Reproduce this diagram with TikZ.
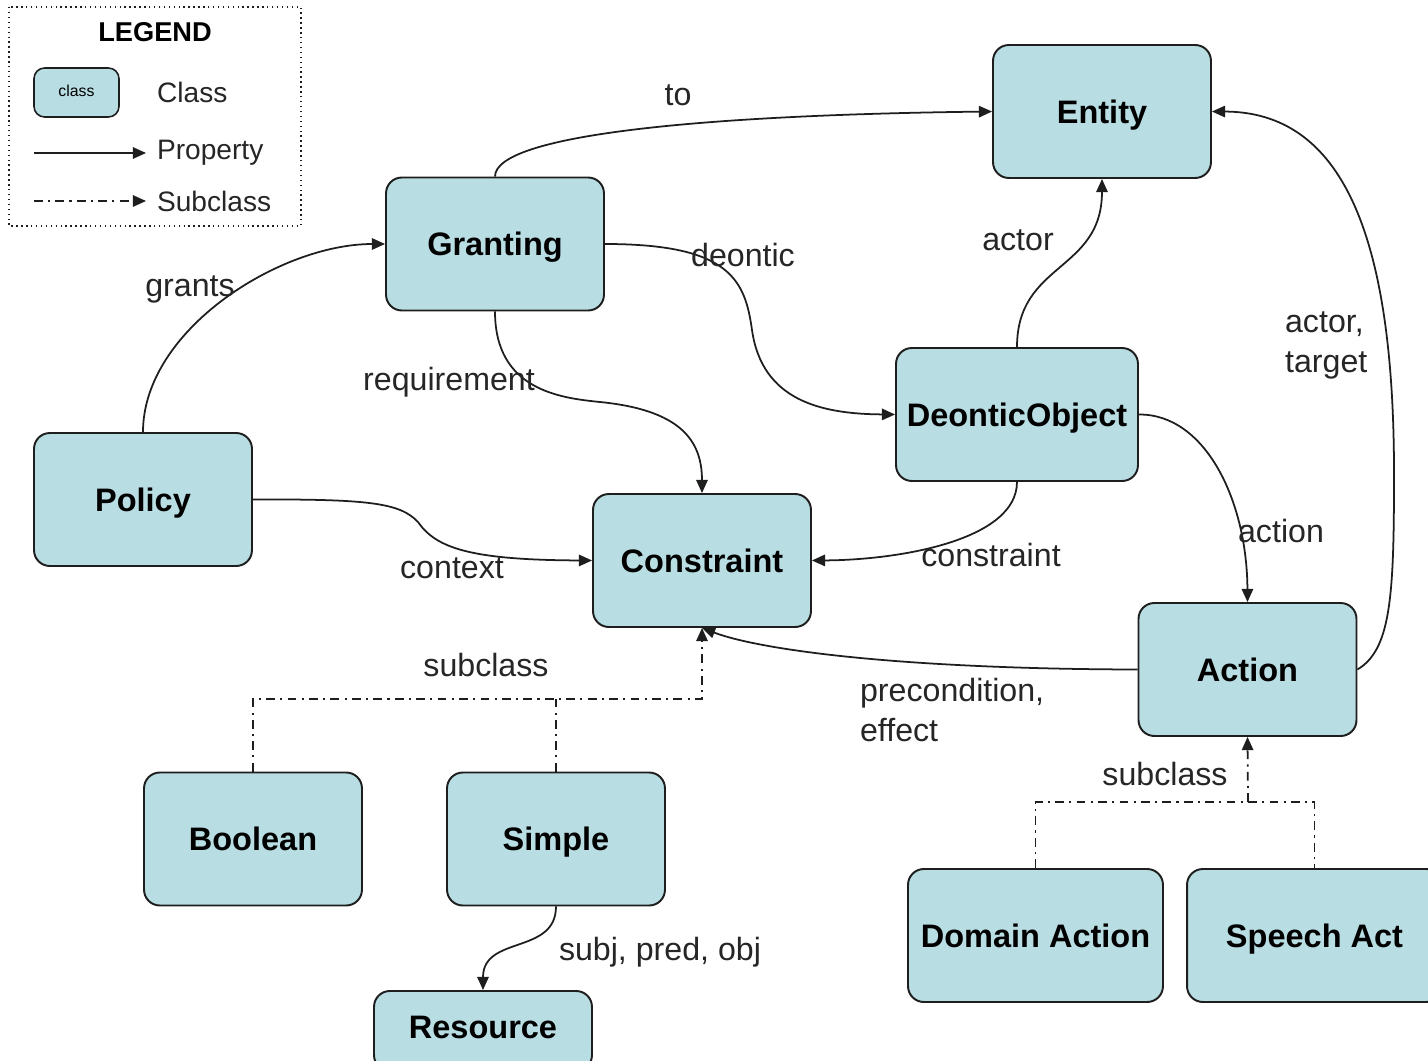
\documentclass[tikz,border=0pt]{standalone}
\usepackage{fontspec}
\setmainfont{Liberation Sans}
\usetikzlibrary{arrows.meta}
\definecolor{classfill}{RGB}{184,221,226}
\definecolor{lineink}{RGB}{30,30,30}

\begin{document}
\begin{tikzpicture}[x=0.02cm,y=-0.02cm,
  cls/.style={draw=lineink, line width=1.1pt, fill=classfill, rounded corners=9pt,
    minimum width=4.36cm, minimum height=2.66cm, inner sep=2pt,
    text height=16.9pt, text depth=3.7pt,
    font=\fontsize{18.5}{22}\selectfont\bfseries},
  prop/.style={draw=lineink, line width=1pt, -{Triangle[length=7.5pt,width=6.5pt]}},
  subcls/.style={draw=lineink, line width=1pt, dash pattern=on 5pt off 3pt on 1.2pt off 3pt},
  lbl/.style={font=\fontsize{18.3}{22.8}\selectfont, text=black!85, inner sep=1pt},
]
\useasboundingbox (0,0) rectangle (1428,1061);
\clip (0,0) rectangle (1428,1061);
\fill[white] (0,0) rectangle (1428,1061);

% ---- legend ----
\draw[lineink, line width=0.8pt, dotted] (9,7) rectangle (301,226);
\node[font=\fontsize{15.5}{18}\selectfont\bfseries] (legtitle) at (155,32) {LEGEND};
\node[cls, minimum width=1.7cm, minimum height=0.98cm, rounded corners=6pt,
      line width=0.9pt, text height=6pt, text depth=1.5pt,
      font=\fontsize{9}{11}\selectfont] (legcls) at (76.5,92.5) {class};
\node[lbl, anchor=west, font=\fontsize{16}{20}\selectfont] (legclstxt) at (155,92) {Class};
\coordinate (lpa) at (34,153);
\coordinate (lpb) at (146,153);
\draw[prop] (lpa) -- (lpb);
\node[lbl, anchor=west, font=\fontsize{16}{20}\selectfont] (legproptxt) at (155,153) {Property};
\coordinate (lsa) at (34,201);
\coordinate (lsb) at (146,201);
\draw[subcls, -{Triangle[length=7.5pt,width=6.5pt]}] (lsa) -- (lsb);
\node[lbl, anchor=west, font=\fontsize{16}{20}\selectfont] (legsubtxt) at (155,201) {Subclass};

% ---- classes ----
\node[cls] (entity) at (1102,111.5) {Entity};
\node[cls] (granting) at (495,244) {Granting};
\node[cls] (policy) at (143,499.5) {Policy};
\node[cls] (constraint) at (702,560.5) {Constraint};
\node[cls, minimum width=4.84cm] (deontic) at (1017,414.5) {DeonticObject};
\node[cls] (action) at (1247.5,669.5) {Action};
\node[cls] (boolean) at (253,839) {Boolean};
\node[cls] (simple) at (556,839) {Simple};
\node[cls, minimum height=1.6cm, text depth=8.2pt] (resource) at (483,1031) {Resource};
\node[cls, minimum width=5.1cm] (domain) at (1035.5,935.5) {Domain Action};
\node[cls, minimum width=5.1cm] (speech) at (1314.5,935.5) {Speech Act};

% ---- properties ----
\draw[prop] (granting.north) .. controls (495,135) and (700,115) .. (entity.west);
\draw[prop] (policy.north) .. controls (143,330) and (280,244) .. (granting.west);
\draw[prop] (granting.east) .. controls (730,244) and (745,280) .. (752,330)
  .. controls (762,400) and (820,414) .. (deontic.west);
\draw[prop] (granting.south) .. controls (495,390) and (560,398) .. (600,402)
  .. controls (680,410) and (702,440) .. (constraint.north);
\draw[prop] (policy.east) .. controls (370,499) and (400,503) .. (418,522)
  .. controls (436,548) and (470,560) .. (constraint.west);
\draw[prop] (deontic.north) .. controls (1017,262) and (1102,272) .. (entity.south);
\draw[prop] (deontic.south) .. controls (1017,540) and (900,560) .. (constraint.east);
\draw[prop] (deontic.east) .. controls (1205,414) and (1247,500) .. (action.north);
\draw[prop] (action.west) .. controls (900,669) and (760,650) .. (constraint.south);
\draw[prop] (action.east) .. controls (1390,650) and (1394,600) .. (1394,480)
  .. controls (1395,230) and (1340,112) .. (entity.east);
\draw[prop] (simple.south) .. controls (556,955) and (483,935) .. (resource.north);

% ---- subclass links ----
\coordinate (cjoin) at (702,699);
\draw[subcls, -{Triangle[length=7.5pt,width=6.5pt]}] (boolean.north) |- (cjoin) -- (constraint.south);
\draw[subcls] (simple.north) -- (simple.north |- cjoin);
\coordinate (ajoin) at (1248,802);
\draw[subcls] (domain.north) |- (speech.north |- ajoin) -- (speech.north);
\draw[subcls, -{Triangle[length=7.5pt,width=6.5pt]}] (ajoin) -- (action.south);

% ---- property labels ----
\node[lbl] (lto) at (678,95) {to};
\node[lbl] (lgrants) at (190,289) {grants};
\node[lbl] (ldeontic) at (743,255) {deontic};
\node[lbl] (lreq) at (449,382) {requirement};
\node[lbl] (lactor) at (1018,240) {actor};
\node[lbl, anchor=west, align=left] (lactortarget) at (1283,345) {actor,\\target};
\node[lbl] (lcontext) at (452,568) {context};
\node[lbl] (lconstraint) at (991,555) {constraint};
\node[lbl] (laction) at (1281,531) {action};
\node[lbl, anchor=west, align=left] (lprecond) at (858,710) {precondition,\\effect};
\node[lbl] (lsub1) at (486,665) {subclass};
\node[lbl] (lsub2) at (1165,774) {subclass};
\node[lbl] (lspo) at (660,952) {subj, pred, obj};
\end{tikzpicture}
\end{document}
